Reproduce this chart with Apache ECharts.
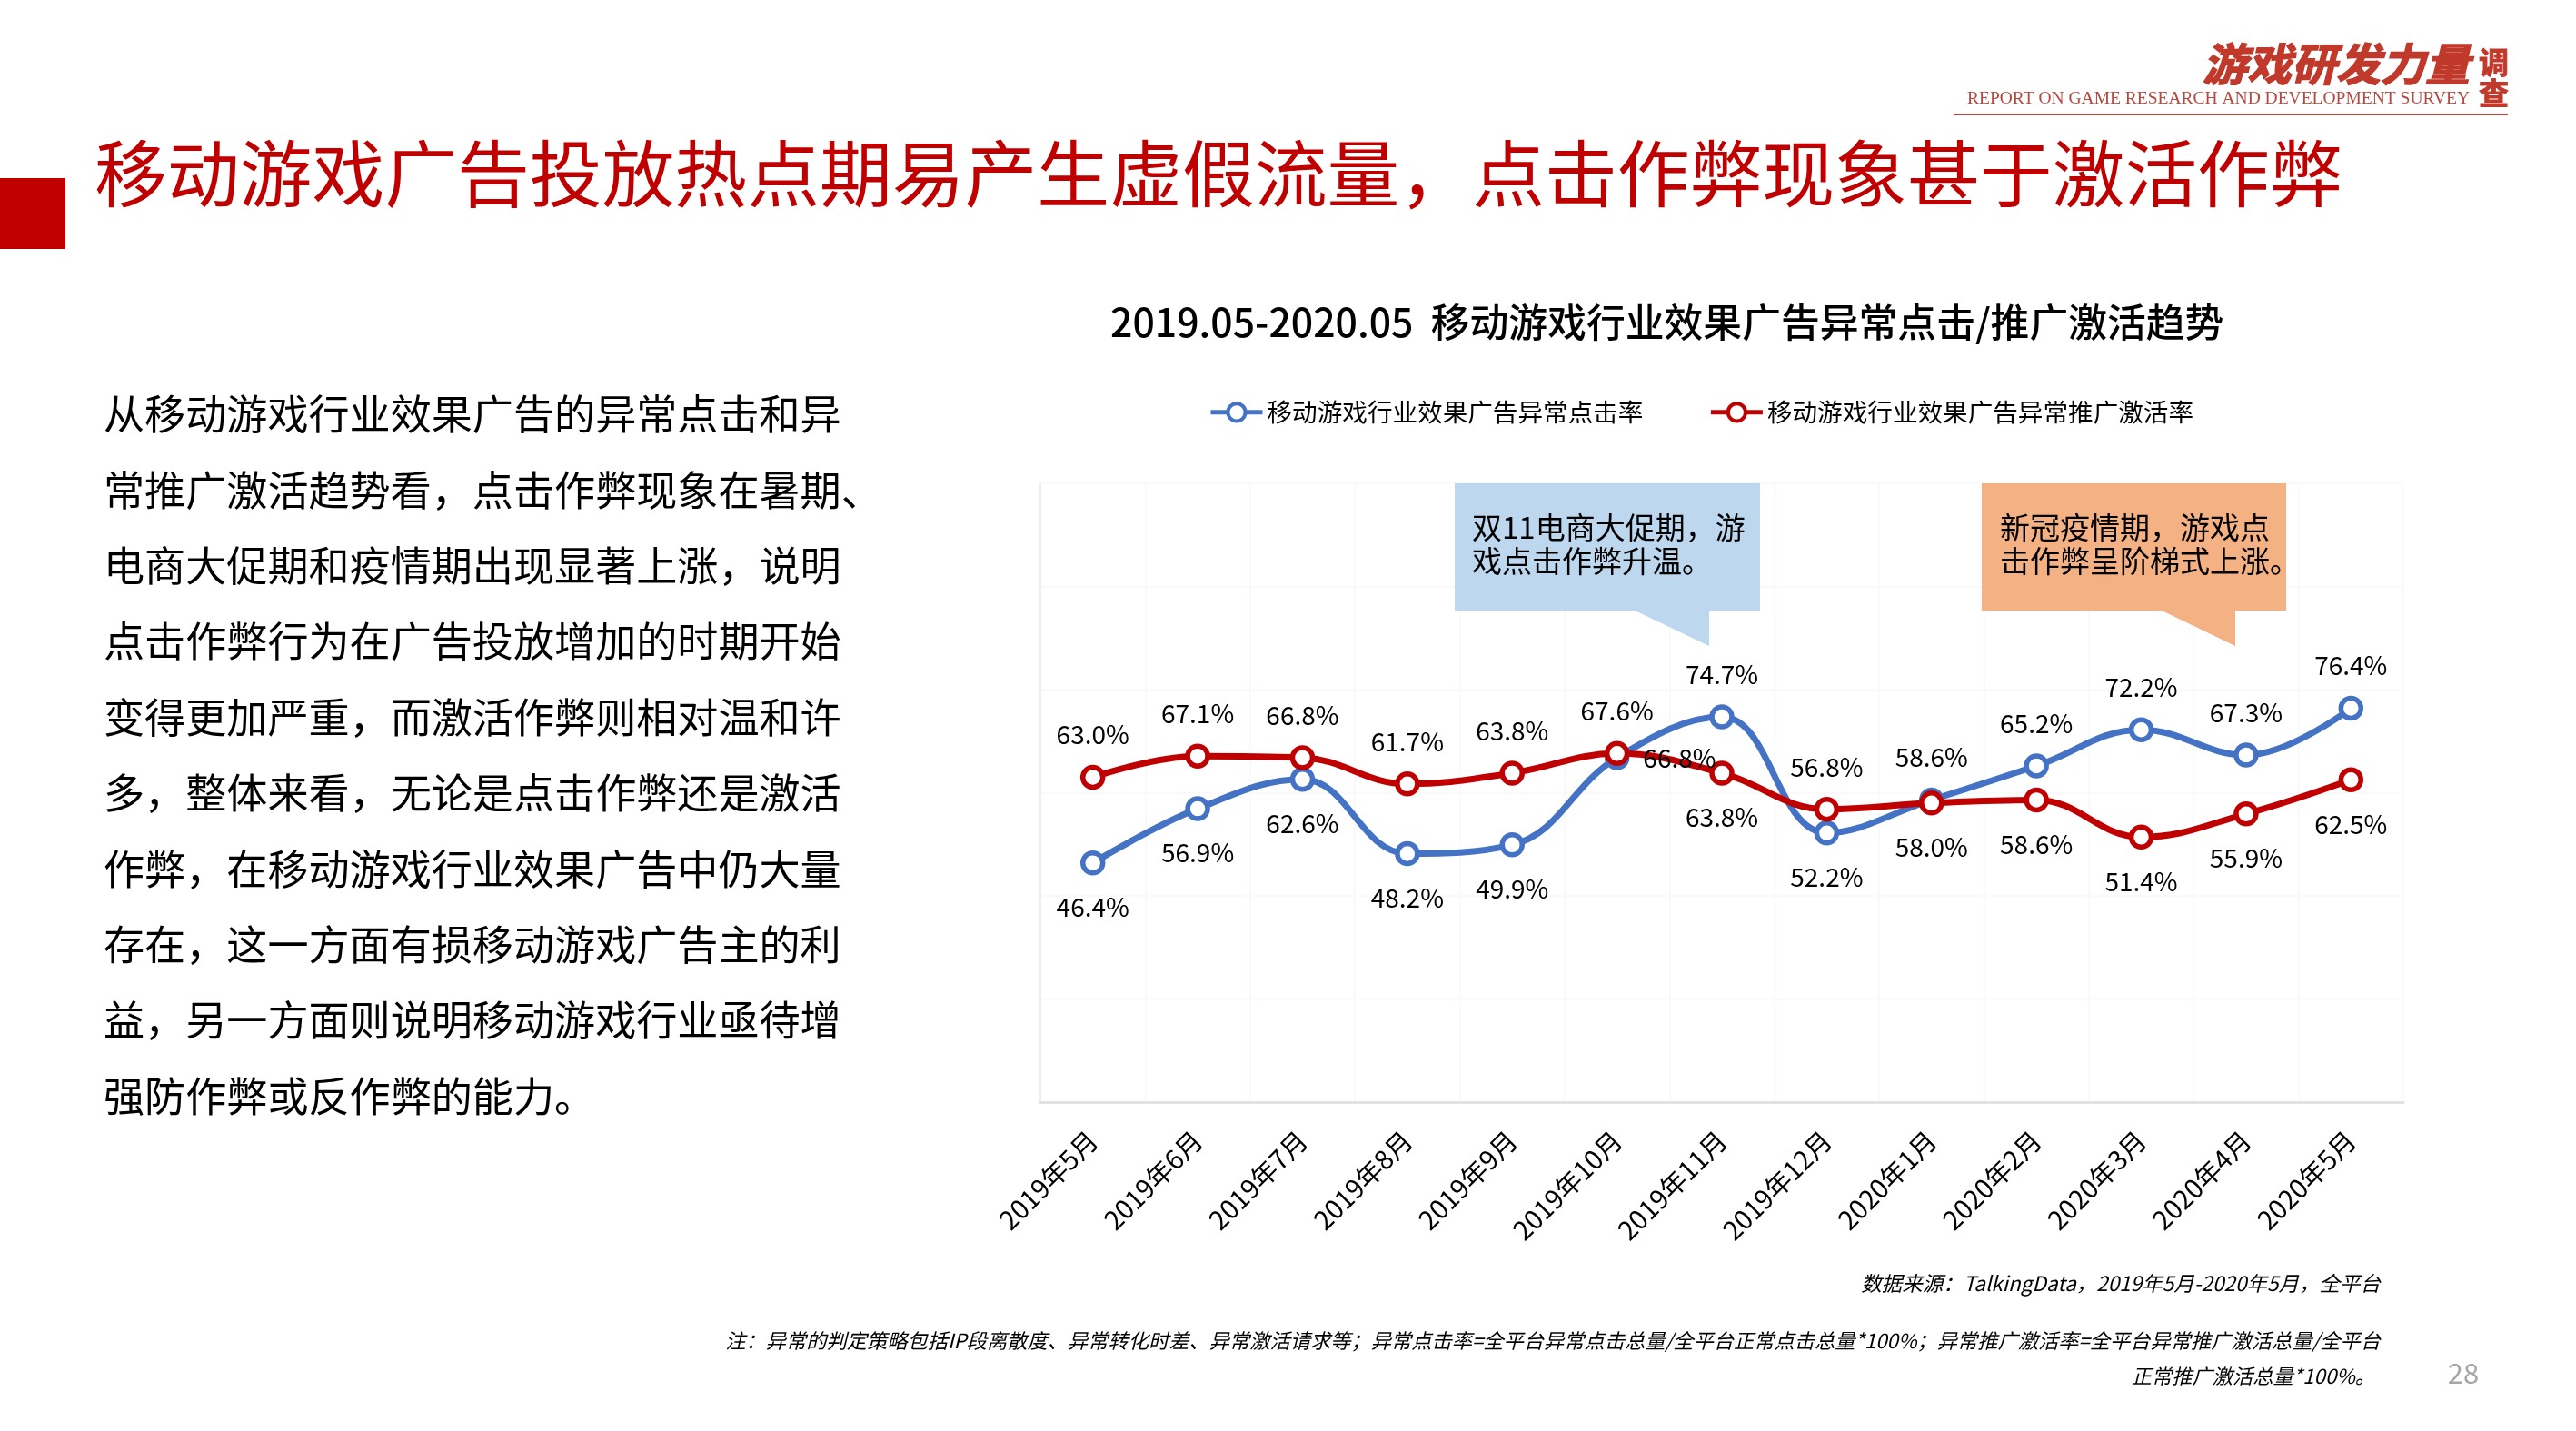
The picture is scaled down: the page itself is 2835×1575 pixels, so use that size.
<!DOCTYPE html>
<html>
<head>
<meta charset="utf-8">
<style>
  html, body { margin: 0; padding: 0; background: #fff; }
  #chart { width: 2835px; height: 1575px; }
</style>
<script src="https://cdn.jsdelivr.net/npm/echarts@6/dist/echarts.min.js"></script>
</head>
<body>
<div id="chart"></div>
<script>
const categories = ['2019年5月', '2019年6月', '2019年7月', '2019年8月', '2019年9月', '2019年10月', '2019年11月',
    '2019年12月', '2020年1月', '2020年2月', '2020年3月', '2020年4月', '2020年5月']
const clickRate = [46.4, 56.9, 62.6, 48.2, 49.9, 66.8, 74.7, 52.2, 58.6, 65.2, 72.2, 67.3, 76.4]
const activationRate = [63.0, 67.1, 66.8, 61.7, 63.8, 67.6, 63.8, 56.8, 58.0, 58.6, 51.4, 55.9, 62.5]
const clickLabelSides = ['bottom', 'bottom', 'bottom', 'bottom', 'bottom', 'right', 'top', 'bottom', 'top', 'top', 'top', 'top', 'top']
const activationLabelSides = ['top', 'top', 'top', 'top', 'top', 'top', 'bottom', 'top', 'bottom', 'bottom', 'bottom', 'bottom', 'bottom']
const seriesNames = ['移动游戏行业效果广告异常点击率', '移动游戏行业效果广告异常推广激活率']
const slideTitle = '移动游戏广告投放热点期易产生虚假流量，点击作弊现象甚于激活作弊'
const chartTitle = '2019.05-2020.05  移动游戏行业效果广告异常点击/推广激活趋势'
const bodyLines = [
    '从移动游戏行业效果广告的异常点击和异',
    '常推广激活趋势看，点击作弊现象在暑期、',
    '电商大促期和疫情期出现显著上涨，说明',
    '点击作弊行为在广告投放增加的时期开始',
    '变得更加严重，而激活作弊则相对温和许',
    '多，整体来看，无论是点击作弊还是激活',
    '作弊，在移动游戏行业效果广告中仍大量',
    '存在，这一方面有损移动游戏广告主的利',
    '益，另一方面则说明移动游戏行业亟待增',
    '强防作弊或反作弊的能力。'
]
const sourceNote = '数据来源：TalkingData，2019年5月-2020年5月，全平台'
const footNotes = [
    '注：异常的判定策略包括IP段离散度、异常转化时差、异常激活请求等；异常点击率=全平台异常点击总量/全平台正常点击总量*100%；异常推广激活率=全平台异常推广激活总量/全平台',
    '正常推广激活总量*100%。'
]

const FONT = '"Noto Sans CJK SC", "Noto Sans", sans-serif'
const BLUE = '#4472c4'
const RED = '#c00000'
const LOGO_RED = '#c0392b'

const makeText = (text, x, y, size, extra) => ({
    type: 'text',
    z: 100,
    x: x,
    y: y,
    style: {
        text: text,
        fontFamily: FONT,
        fontSize: size,
        fill: '#000',
        textVerticalAlign: 'middle',
        ...extra
    }
})

const makeSeries = (name, values, sides, color) => ({
    name: name,
    type: 'line',
    smooth: 0.4,
    data: values.map((v, i) => ({
        value: v,
        label: {position: sides[i], distance: sides[i] === 'right' ? 15 : sides[i] === 'top' ? 19 : 21}
    })),
    symbol: 'circle',
    symbolSize: 22,
    showAllSymbol: true,
    lineStyle: {color: color, width: 7},
    itemStyle: {color: '#fff', borderColor: color, borderWidth: 5.5},
    label: {
        show: true,
        fontFamily: FONT,
        fontSize: 28,
        color: '#000',
        formatter: p => p.value.toFixed(1) + '%'
    }
})

const graphics = [
    {type: 'rect', z: 100, shape: {x: 0, y: 196, width: 72, height: 78}, style: {fill: RED}},
    makeText(slideTitle, 104, 191, 79.8, {fill: RED}),
    // logo
    makeText('游戏研发力量', 2424, 70, 49, {fill: LOGO_RED, stroke: LOGO_RED, lineWidth: 1.5, fontWeight: 'bold', fontStyle: 'italic'}),
    makeText('调', 2728, 68, 33, {fill: LOGO_RED, stroke: LOGO_RED, lineWidth: 1, fontWeight: 'bold'}),
    makeText('查', 2728, 102, 33, {fill: LOGO_RED, stroke: LOGO_RED, lineWidth: 1, fontWeight: 'bold'}),
    makeText('REPORT ON GAME RESEARCH AND DEVELOPMENT SURVEY', 2718, 109, 19.5, {
        fill: '#b5483f', fontFamily: '"Liberation Serif", serif', textAlign: 'right'
    }),
    {type: 'rect', z: 100, shape: {x: 2150, y: 125, width: 610, height: 2}, style: {fill: '#b5483f'}},
    // callouts
    {type: 'rect', z: 100, shape: {x: 1601, y: 532, width: 336, height: 140}, style: {fill: '#bdd7ee'}},
    {type: 'polygon', z: 100, shape: {points: [[1797, 671], [1881, 711], [1881, 671]]}, style: {fill: '#bdd7ee'}},
    makeText('双11电商大促期，游', 1620, 580, 33),
    makeText('戏点击作弊升温。', 1620, 617, 33),
    {type: 'rect', z: 100, shape: {x: 2181, y: 532, width: 335, height: 140}, style: {fill: '#f4b183'}},
    {type: 'polygon', z: 100, shape: {points: [[2377, 671], [2460, 711], [2460, 671]]}, style: {fill: '#f4b183'}},
    makeText('新冠疫情期，游戏点', 2201, 580, 33),
    makeText('击作弊呈阶梯式上涨。', 2201, 617, 33),
    // notes
    makeText(sourceNote, 2620, 1412, 22.5, {textAlign: 'right', fontStyle: 'italic'}),
    makeText(footNotes[0], 2620, 1476, 22.25, {textAlign: 'right', fontStyle: 'italic'}),
    makeText(footNotes[1], 2614, 1515, 22.25, {textAlign: 'right', fontStyle: 'italic'}),
    makeText('28', 2711, 1511, 31, {fill: '#a6a6a6', textAlign: 'center'})
]
bodyLines.forEach((line, i) => {
    graphics.push(makeText(line, 114, 456 + i * 83.4, 45.1))
})

const myChart = echarts.init(document.getElementById('chart'), null, {renderer: 'canvas'})

const option = {
    animation: false,
    backgroundColor: '#fff',
    title: {
        text: chartTitle,
        left: 1222,
        top: 333,
        padding: 0,
        textStyle: {fontFamily: FONT, fontSize: 42.8, fontWeight: 500, color: '#000'}
    },
    legend: {
        left: 1330,
        top: 440,
        padding: 0,
        itemWidth: 57,
        itemHeight: 24,
        itemGap: 72,
        lineStyle: {width: 5},
        itemStyle: {borderWidth: 4},
        textStyle: {fontFamily: FONT, fontSize: 27.6, color: '#000'},
        data: seriesNames
    },
    grid: {left: 1145, top: 532, width: 1500, height: 681, containLabel: false},
    xAxis: {
        type: 'category',
        data: categories,
        boundaryGap: true,
        axisTick: {show: false},
        axisLine: {lineStyle: {color: '#e2e2e2', width: 3}},
        splitLine: {show: true, lineStyle: {color: '#f9f9f9', width: 1.5}},
        axisLabel: {
            interval: 0,
            rotate: 45,
            margin: 37,
            fontFamily: FONT,
            fontSize: 29,
            color: '#000'
        }
    },
    yAxis: {
        type: 'value',
        min: 0,
        max: 120,
        interval: 20,
        axisLabel: {show: false},
        axisTick: {show: false},
        axisLine: {show: true, lineStyle: {color: '#efefef', width: 2}},
        splitLine: {lineStyle: {color: '#f9f9f9', width: 1.5}}
    },
    series: [
        makeSeries(seriesNames[0], clickRate, clickLabelSides, BLUE),
        makeSeries(seriesNames[1], activationRate, activationLabelSides, RED)
    ],
    graphic: {elements: graphics}
}

option && myChart.setOption(option)
</script>
</body>
</html>
